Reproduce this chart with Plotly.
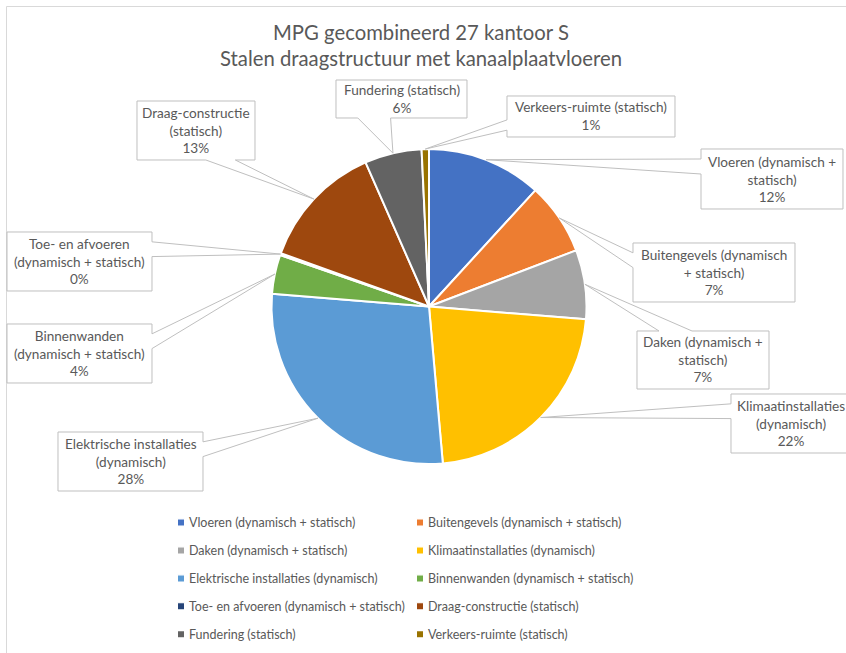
import math
import plotly.graph_objects as go

categories = [
    "Vloeren (dynamisch + statisch)",
    "Buitengevels (dynamisch + statisch)",
    "Daken (dynamisch + statisch)",
    "Klimaatinstallaties (dynamisch)",
    "Elektrische installaties (dynamisch)",
    "Binnenwanden (dynamisch + statisch)",
    "Toe- en afvoeren (dynamisch + statisch)",
    "Draag-constructie (statisch)",
    "Fundering (statisch)",
    "Verkeers-ruimte (statisch)",
]
# share of the MPG per element group
values = [11.8, 7.4, 7.1, 22.3, 27.7, 4.0, 0.2, 12.9, 5.85, 0.75]
# data label text, wrapped the way Excel wrapped it
label_text = [
    "Vloeren (dynamisch +<br>statisch)",
    "Buitengevels (dynamisch<br>+ statisch)",
    "Daken (dynamisch +<br>statisch)",
    "Klimaatinstallaties<br>(dynamisch)",
    "Elektrische installaties<br>(dynamisch)",
    "Binnenwanden<br>(dynamisch + statisch)",
    "Toe- en afvoeren<br>(dynamisch + statisch)",
    "Draag-constructie<br>(statisch)",
    "Fundering (statisch)",
    "Verkeers-ruimte (statisch)",
]
colors = ["#4472C4", "#ED7D31", "#A5A5A5", "#FFC000", "#5B9BD5",
          "#70AD47", "#264478", "#9E480E", "#636363", "#997300"]

# callout boxes in pixels (left, top, right, bottom)
boxes = [
    (701, 149, 843, 209),
    (633, 243, 795, 302),
    (637, 331, 769, 389),
    (731, 394, 851, 453),
    (58, 432, 203, 491),
    (7, 324, 152, 383),
    (7, 232, 152, 291),
    (137, 101, 255, 160),
    (336, 80, 467, 118),
    (507, 96, 675, 137),
]

W, H = 846, 653
# plot area in pixels
PL, PR, PT, PB = 149, 697, 90, 500
PW, PH = PR - PL, PB - PT
CX, CY, RAD = 429, 306.5, 157.5
TXT = "#595959"
FONT = "Lato"


def px(x):
    return (x - PL) / PW


def py(y):
    return (PB - y) / PH


def callout(l, t, r, b, tx, ty):
    # outline of an Excel wedgeRectCallout
    w, h = r - l, b - t
    dx, dy = tx - (l + r) / 2, ty - (t + b) / 2
    dq = dx * h / w
    if abs(dy) > abs(dq):
        g = (7, 10) if dx > 0 else (2, 5)
        x1, x2 = l + w * g[0] / 12, l + w * g[1] / 12
        if dy < 0:
            pts = [(l, t), (x1, t), (tx, ty), (x2, t), (r, t), (r, b), (l, b)]
        else:
            pts = [(l, t), (r, t), (r, b), (x2, b), (tx, ty), (x1, b), (l, b)]
    else:
        g = (7, 10) if dy > 0 else (2, 5)
        y1, y2 = t + h * g[0] / 12, t + h * g[1] / 12
        if dx < 0:
            pts = [(l, t), (r, t), (r, b), (l, b), (l, y2), (tx, ty), (l, y1)]
        else:
            pts = [(l, t), (r, t), (r, y1), (tx, ty), (r, y2), (r, b), (l, b)]
    return "M" + " L".join(f"{px(x):.5f},{py(y):.5f}" for x, y in pts) + " Z"


fig = go.Figure(go.Pie(
    labels=[f"<span style='font-size:12.5px;baseline-shift:3px'>{c}</span>" for c in categories],
    values=values,
    sort=False,
    direction="clockwise",
    rotation=0,
    marker=dict(colors=colors, line=dict(color="white", width=2)),
    textinfo="none",
    hovertext=categories,
    hoverinfo="text+percent",
    domain=dict(x=[px(CX - RAD), px(CX + RAD)], y=[py(CY + RAD), py(CY - RAD)]),
))

total = sum(values)
shapes = [dict(type="rect", xref="paper", yref="paper", layer="below",
               x0=px(6.5), x1=px(900), y0=py(6.5), y1=py(700),
               line=dict(color="#D9D9D9", width=1))]
annotations = []
start = 0.0
for v, txt, (l, t, r, b) in zip(values, label_text, boxes):
    mid = (start + v / 2) / total * 2 * math.pi
    start += v
    tx, ty = CX + RAD * math.sin(mid), CY - RAD * math.cos(mid)
    shapes.append(dict(type="path", xref="paper", yref="paper", path=callout(l, t, r, b, tx, ty),
                       fillcolor="white", line=dict(color="#BFBFBF", width=1)))
    annotations.append(dict(
        xref="paper", yref="paper", x=px((l + r) / 2), y=py((t + b) / 2),
        text=f"{txt}<br>{round(v / total * 100)}%", showarrow=False,
        xanchor="center", yanchor="middle", align="center",
        font=dict(family=FONT, size=13.6, color=TXT),
    ))

fig.update_layout(
    width=W, height=H,
    margin=dict(l=PL, r=W - PR, t=PT, b=H - PB, autoexpand=False),
    paper_bgcolor="white",
    title=dict(text="MPG gecombineerd 27 kantoor S<br>Stalen draagstructuur met kanaalplaatvloeren",
               x=421 / W, xref="container", xanchor="center",
               y=1 - 40 / H, yref="container", yanchor="top",
               font=dict(family=FONT, size=20.3, color=TXT)),
    legend=dict(orientation="h", x=0, xanchor="left", y=py(503.5), yanchor="top",
                entrywidth=194, traceorder="normal",
                font=dict(family=FONT, size=19.2, color=TXT)),
    shapes=shapes,
    annotations=annotations,
)

# page without body margin; Excel-like legend: small keys close to the text,
# second legend column not clipped
fig.write_html("out.html", config={"displayModeBar": False}, post_script=(
    "document.body.style.margin='0';"
    "document.querySelectorAll('.legend .scrollbox')"
    ".forEach(function(e){e.removeAttribute('clip-path');});"
    "document.querySelectorAll('.legend .legendpoints path')"
    ".forEach(function(e){e.setAttribute('transform','translate(32,0) scale(0.6)');});"
))
